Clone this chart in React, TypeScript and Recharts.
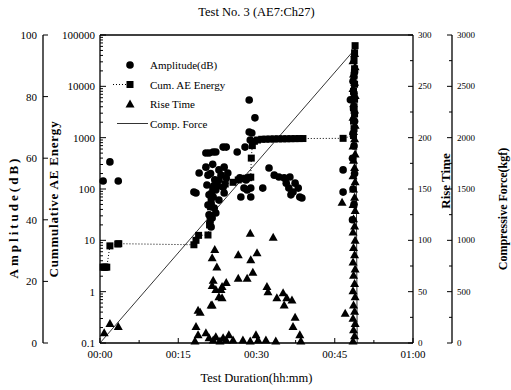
import React from "react";
import { ComposedChart, Scatter, Line, XAxis, YAxis, Legend } from "recharts";

const FONT = '"Liberation Serif", "Times New Roman", Times, serif';

// [minutes, dB]
const amplitude: [number, number][] = [
  [0.6, 52.6], [1.9, 58.8], [3.5, 52.6],
  [18.0, 49.0], [18.4, 48.7], [19.0, 55.2], [20.3, 61.7], [20.9, 61.7], [21.7, 62.0], [22.2, 62.0],
  [23.6, 63.6], [24.2, 63.6], [26.3, 62.0],
  [20.3, 57.1], [20.7, 54.5], [20.5, 51.3], [20.9, 48.1], [20.7, 44.8], [20.9, 41.6], [21.1, 39.3],
  [21.3, 37.7], [21.5, 40.6], [21.7, 47.4], [21.9, 43.8], [22.2, 49.7], [22.2, 42.2], [22.8, 56.2],
  [22.8, 52.9], [22.8, 46.4], [23.2, 54.5], [23.6, 50.6], [23.8, 57.1], [23.8, 48.7], [24.2, 53.6],
  [24.5, 55.2], [21.2, 55.0], [21.6, 58.0], [22.0, 53.0], [21.3, 45.0], [21.8, 51.0],
  [26.8, 53.6], [27.6, 50.3], [27.0, 47.4], [28.0, 52.9], [28.2, 49.7], [28.9, 47.4], [28.9, 50.3],
  [27.8, 63.6], [28.6, 68.5], [29.1, 68.2], [28.8, 65.9], [29.7, 73.1], [28.6, 78.9], [31.2, 50.3],
  [32.4, 56.8], [33.4, 54.5], [34.3, 53.9], [35.3, 53.6], [35.7, 51.9], [36.2, 50.3], [36.4, 53.9],
  [36.6, 48.1], [37.0, 49.0], [37.4, 51.9], [38.0, 50.3], [38.3, 47.4], [38.7, 47.1],
  [46.6, 56.2], [46.6, 49.0],
  [48.0, 79.0], [48.4, 40.0], [48.7, 45.0], [48.5, 50.0], [48.8, 55.0], [48.4, 60.0], [48.7, 64.0],
  [48.5, 68.0], [48.8, 72.0], [48.6, 76.0], [48.7, 81.0], [48.5, 85.0], [48.8, 88.0],
];

// [minutes, cumulative energy]
const cumEnergy: [number, number][] = [
  [0.6, 3], [0.8, 3], [1.0, 3], [1.3, 3], [1.9, 7.8], [3.4, 8.5], [3.6, 8.6],
  [18.0, 8.2], [18.4, 10], [18.9, 12.5], [20.7, 12.7], [21.0, 20], [21.1, 30], [21.2, 45],
  [21.3, 60], [21.4, 80], [21.6, 100], [22.5, 115], [24.0, 125], [25.5, 135], [26.5, 150],
  [27.3, 158], [28.0, 162], [28.5, 166], [28.9, 170], [29.0, 400], [29.2, 700], [29.6, 850],
  [30.2, 900], [31.0, 930], [31.8, 935], [32.6, 940], [33.4, 945], [34.2, 948], [35.0, 950],
  [35.8, 952], [36.6, 955], [37.4, 958], [38.2, 960], [38.9, 962], [46.6, 970],
  [48.6, 1100], [48.7, 1500], [48.6, 2100], [48.8, 2900], [48.7, 4000], [48.8, 5600], [48.6, 8000],
  [48.8, 11000], [48.7, 16000], [48.8, 22000], [48.7, 32000], [48.8, 45000], [48.9, 62000],
];

// [minutes, rise time]
const riseTime: [number, number][] = [
  [0.8, 10], [1.9, 19], [3.5, 16],
  [18.2, 2], [18.4, 16], [18.8, 8], [19.2, 30], [18.8, 32], [21.3, 37], [22.0, 91], [21.5, 83],
  [22.4, 74], [21.7, 61], [21.5, 56], [22.2, 52], [23.2, 52], [23.4, 55], [22.8, 45], [23.4, 44],
  [21.5, 37], [24.2, 59], [26.5, 86], [26.5, 63], [28.2, 63], [28.8, 107], [30.1, 88], [28.9, 81],
  [29.3, 69], [33.2, 103], [32.0, 55], [32.2, 50], [33.9, 44], [35.1, 49], [35.8, 44], [36.8, 42],
  [35.3, 37], [37.4, 25], [37.0, 16], [38.3, 8],
  [20.3, 10], [20.9, 5], [21.7, 3], [22.2, 6], [23.0, 2], [23.6, 5], [24.2, 3], [24.7, 8],
  [25.5, 3], [27.4, 3], [28.8, 2], [29.9, 8], [30.3, 3], [31.8, 3], [33.7, 2], [38.5, 2],
  [46.4, 137], [47.0, 29],
  [48.5, 2], [48.8, 7], [48.6, 13], [48.9, 19], [48.5, 24], [48.8, 31], [48.6, 37], [48.9, 45],
  [48.5, 51], [48.8, 58], [48.6, 66], [48.9, 72], [48.5, 79], [48.8, 86], [48.6, 93], [48.9, 100],
  [48.5, 108], [48.8, 114], [48.6, 121], [48.9, 129], [48.5, 135], [48.8, 142], [48.6, 150],
  [48.9, 157], [48.5, 163], [48.8, 171], [48.6, 178], [48.9, 184], [48.5, 192], [48.8, 199],
  [48.6, 206], [48.9, 212], [48.5, 220], [48.8, 227], [48.6, 233], [48.9, 241], [48.5, 248],
  [48.8, 254], [48.6, 262], [48.9, 269], [48.5, 275], [48.8, 282],
];

// [minutes, kgf]
const compForce: [number, number][] = [[0, 0], [49.0, 2870], [49.3, 0]];

const timeTicks = [0, 7.5, 15, 22.5, 30, 37.5, 45, 52.5, 60];
const ampTicks = [0, 20, 40, 60, 80, 100];
const energyMajor = [0.1, 1, 10, 100, 1000, 10000, 100000];
const riseTicks = [0, 25, 50, 75, 100, 125, 150, 175, 200, 225, 250, 275, 300];
const forceTicks = [0, 250, 500, 750, 1000, 1250, 1500, 1750, 2000, 2250, 2500, 2750, 3000];

const energyTicks = energyMajor.concat(
  energyMajor.slice(0, -1).flatMap((d) => [2, 3, 4, 5, 6, 7, 8, 9].map((k) => d * k))
);

const ampData = amplitude.map(([t, a]) => ({ t, a }));
const energyData = cumEnergy.map(([t, e]) => ({ t, e }));
const riseData = riseTime.map(([t, r]) => ({ t, r }));
const forceData = compForce.map(([t, f]) => ({ t, f }));

const tickText = { fontFamily: FONT, fontSize: 11, fill: "#000" };
const smallText = { fontFamily: FONT, fontSize: 9, fill: "#000" };

const fmtTime = (m: number) =>
  `${String(Math.floor(m / 60)).padStart(2, "0")}:${String(m % 60).padStart(2, "0")}`;

function TimeTick({ x, y, payload }: any) {
  const v = payload.value;
  const major = v % 15 === 0;
  return (
    <g>
      <line x1={x} x2={x} y1={y} y2={y - (major ? 5 : 3)} stroke="#000" />
      {major && (
        <text x={x} y={y + 15} textAnchor="middle" fontFamily={FONT} style={tickText}>
          {fmtTime(v)}
        </text>
      )}
    </g>
  );
}

function EnergyTick({ x, y, payload }: any) {
  const v = payload.value;
  const major = energyMajor.some((m) => Math.abs(m - v) < 1e-9);
  return (
    <g>
      <line x1={x} x2={x + (major ? 6 : 3)} y1={y} y2={y} stroke="#000" />
      {major && (
        <text x={x - 5} y={y} textAnchor="end" dominantBaseline="central" fontFamily={FONT} style={tickText}>
          {v}
        </text>
      )}
    </g>
  );
}

function AmpTick({ x, y, payload }: any) {
  return (
    <g>
      <line x1={x} x2={x + 5} y1={y} y2={y} stroke="#000" />
      <text x={x - 6} y={y} textAnchor="end" dominantBaseline="central" fontFamily={FONT} style={tickText}>
        {payload.value}
      </text>
    </g>
  );
}

const rightTick = (step: number) => ({ x, y, payload }: any) => {
  const v = payload.value;
  const major = v % step === 0;
  return (
    <g>
      <line x1={x} x2={x - (major ? 5 : 3)} y1={y} y2={y} stroke="#000" />
      {major && (
        <text x={x + 5} y={y} dominantBaseline="central" fontFamily={FONT} style={smallText}>
          {v}
        </text>
      )}
    </g>
  );
};

const vTitle = (text: string, dx: number, dy: number, size: number, spacing = 0) => (props: any) => {
  const vb = props.viewBox;
  const cx = vb.x + dx;
  const cy = vb.y + vb.height / 2 + dy;
  return (
    <text
      x={cx}
      y={cy}
      transform={`rotate(-90 ${cx} ${cy})`}
      textAnchor="middle"
      dominantBaseline="central"
      fontFamily={FONT}
      style={{ fontFamily: FONT, fontSize: size, fontWeight: "bold", letterSpacing: spacing, fill: "#000" }}
    >
      {text}
    </text>
  );
};

const hTitle = (text: string, dy: number) => (props: any) => {
  const vb = props.viewBox;
  return (
    <text
      x={vb.x + vb.width / 2}
      y={vb.y + dy}
      textAnchor="middle"
      fontFamily={FONT}
      style={{ fontFamily: FONT, fontSize: 12.5, fill: "#000" }}
    >
      {text}
    </text>
  );
};

const legendOrder = ["Amplitude(dB)", "Cum. AE Energy", "Rise Time", "Comp. Force"];

function LegendIcon({ name, y }: { name: string; y: number }) {
  if (name === "Amplitude(dB)") return <circle cx={25} cy={y} r={3.8} fill="#000" />;
  if (name === "Cum. AE Energy")
    return (
      <g>
        <line x1={8} x2={24} y1={y} y2={y} stroke="#000" strokeDasharray="1 2" />
        <rect x={21.5} y={y - 3.5} width={7} height={7} fill="#000" />
      </g>
    );
  if (name === "Rise Time")
    return <polygon points={`25,${y - 4.5} 20.5,${y + 3.5} 29.5,${y + 3.5}`} fill="#000" />;
  return <line x1={12} x2={43} y1={y} y2={y} stroke="#000" strokeWidth={0.8} />;
}

function LegendBox(props: any) {
  const names = (props.payload || []).map((p: any) => p.value);
  const rows = legendOrder.filter((n) => names.includes(n));
  return (
    <svg width={140} height={82}>
      {rows.map((n, i) => {
        const y = 10 + i * 19.5;
        return (
          <g key={n}>
            <LegendIcon name={n} y={y} />
            <text
              x={45}
              y={y}
              dominantBaseline="central"
              fontFamily={FONT}
              style={{ fontFamily: FONT, fontSize: 11, fill: "#000" }}
            >
              {n}
            </text>
          </g>
        );
      })}
    </svg>
  );
}

const dot = (p: any) => <circle cx={p.cx} cy={p.cy} r={3.8} fill="#000" />;
const square = (p: any) => <rect x={p.cx - 3.5} y={p.cy - 3.5} width={7} height={7} fill="#000" />;
const triangle = (p: any) => (
  <polygon points={`${p.cx},${p.cy - 4.5} ${p.cx - 4.5},${p.cy + 3.5} ${p.cx + 4.5},${p.cy + 3.5}`} fill="#000" />
);

const axisLine = { stroke: "#000", strokeWidth: 1.3 };

export default function App() {
  return (
    <div
      style={{
        position: "absolute",
        left: 0,
        top: 0,
        width: 511,
        height: 390,
        background: "#fff",
        fontFamily: FONT,
      }}
    >
      <ComposedChart width={511} height={390} margin={{ top: 34, right: 0, bottom: 0, left: 0 }}>
        <XAxis
          xAxisId="b"
          dataKey="t"
          type="number"
          domain={[0, 60]}
          ticks={timeTicks}
          interval={0}
          height={47}
          tickSize={0}
          tickMargin={0}
          tickLine={false}
          tick={TimeTick}
          axisLine={axisLine}
          label={hTitle("Test Duration(hh:mm)", 39)}
        />
        <XAxis
          xAxisId="top"
          orientation="top"
          type="number"
          domain={[0, 60]}
          height={1}
          tick={false}
          tickLine={false}
          axisLine={axisLine}
          label={hTitle("Test No. 3 (AE7:Ch27)", -18)}
        />
        <YAxis
          yAxisId="a_cum"
          scale="log"
          domain={[0.1, 100000]}
          ticks={energyTicks}
          interval={0}
          width={57}
          tickSize={0}
          tickMargin={0}
          tickLine={false}
          tick={EnergyTick}
          axisLine={axisLine}
          label={vTitle("Cummulative AE Energy", 10, 10, 13, 0.8)}
        />
        <YAxis
          yAxisId="b_amp"
          domain={[0, 100]}
          ticks={ampTicks}
          interval={0}
          width={43}
          tickSize={0}
          tickMargin={0}
          tickLine={false}
          tick={AmpTick}
          axisLine={axisLine}
          label={vTitle("Amplitude(dB)", 13, 28, 13, 3)}
        />
        <YAxis
          yAxisId="a_rise"
          orientation="right"
          domain={[0, 300]}
          ticks={riseTicks}
          interval={0}
          width={39}
          tickSize={0}
          tickMargin={0}
          tickLine={false}
          tick={rightTick(50)}
          axisLine={axisLine}
          label={vTitle("Rise Time", 32, -8, 13)}
        />
        <YAxis
          yAxisId="b_force"
          orientation="right"
          domain={[0, 3000]}
          ticks={forceTicks}
          interval={0}
          width={59}
          tickSize={0}
          tickMargin={0}
          tickLine={false}
          tick={rightTick(500)}
          axisLine={axisLine}
          label={vTitle("Compressive Force(kgf)", 51, 20, 12)}
        />
        <Legend
          layout="vertical"
          align="center"
          verticalAlign="middle"
          content={LegendBox}
          wrapperStyle={{ position: "absolute", left: 105, top: 55, width: 140, height: 82 }}
        />
        <Scatter
          name="Amplitude(dB)"
          data={ampData}
          dataKey="a"
          xAxisId="b"
          yAxisId="b_amp"
          fill="#000"
          shape={dot}
          isAnimationActive={false}
        />
        <Scatter
          name="Cum. AE Energy"
          data={energyData}
          dataKey="e"
          xAxisId="b"
          yAxisId="a_cum"
          fill="#000"
          shape={square}
          line={{ stroke: "#000", strokeWidth: 1, strokeDasharray: "1 2" }}
          lineType="joint"
          isAnimationActive={false}
        />
        <Scatter
          name="Rise Time"
          data={riseData}
          dataKey="r"
          xAxisId="b"
          yAxisId="a_rise"
          fill="#000"
          shape={triangle}
          isAnimationActive={false}
        />
        <Line
          name="Comp. Force"
          data={forceData}
          dataKey="f"
          xAxisId="b"
          yAxisId="b_force"
          type="linear"
          stroke="#000"
          strokeWidth={0.8}
          dot={false}
          activeDot={false}
          isAnimationActive={false}
        />
      </ComposedChart>
    </div>
  );
}
